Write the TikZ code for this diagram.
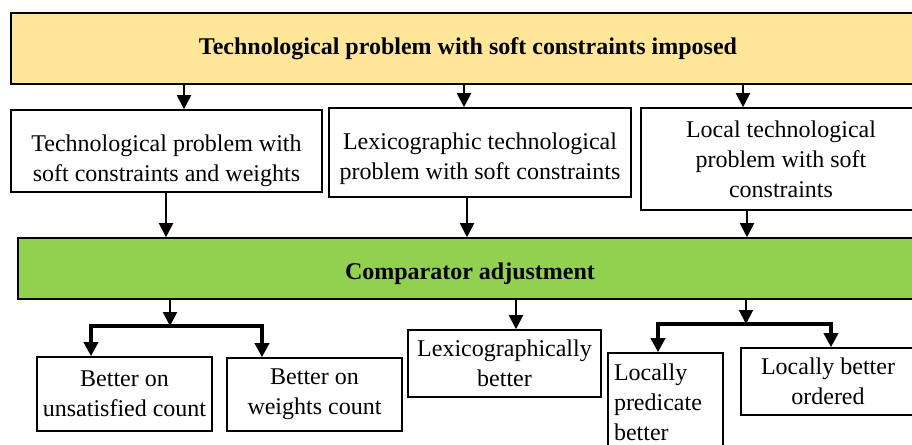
\documentclass[tikz,border=0pt]{standalone}
\usepackage{fontspec}
\setmainfont{Liberation Serif}
\usetikzlibrary{arrows.meta}
\definecolor{titleyellow}{HTML}{FFE699}
\definecolor{compgreen}{HTML}{92D050}

\begin{document}
\begin{tikzpicture}[x=0.5pt,y=-0.5pt]
%%%%%%%%%%%%%%%%%%%%%%%%%%%%%%%%%%%%%%%%%%%%%%%%%%%%%%%%%%%%%%
%styles
\tikzstyle{box}=[rectangle,draw=black,line width=0.8pt,inner sep=0pt,align=center,font=\fontsize{12}{15}\selectfont]
\tikzstyle{bigbox}=[box,font=\fontsize{12}{15}\selectfont\bfseries]
\tikzstyle{arr}=[-{Triangle[length=7pt,width=7pt]},line width=1pt]
\tikzstyle{fork}=[{Triangle[length=7pt,width=7pt]}-{Triangle[length=7pt,width=7pt]},line width=1.8pt]
\useasboundingbox (0,0) rectangle (912,445);
%nodes
\node[bigbox,fill=titleyellow,minimum width=457pt,minimum height=35.5pt] (top) at (468,48.5) {Technological problem with soft constraints imposed};
\node[box,minimum width=155.5pt,minimum height=41pt] (weighted) at (166.5,151) {\rule{0pt}{18pt}Technological problem with\\soft constraints and weights};
\node[box,minimum width=151pt,minimum height=44.5pt] (lexprob) at (480,152.5) {\rule{0pt}{15pt}Lexicographic technological\\problem with soft constraints};
\node[box,minimum width=140pt,minimum height=51pt] (localprob) at (781,159) {Local technological\\problem with soft\\constraints};
\node[bigbox,fill=compgreen,minimum width=452pt,minimum height=30.5pt] (comp) at (470,268.5) {\rule{0pt}{14pt}Comparator adjustment};
%%results
\node[box,minimum width=87.5pt,minimum height=37pt] (unsat) at (124.5,394) {Better on\\unsatisfied count};
\node[box,minimum width=87.5pt,minimum height=36.5pt] (wcount) at (314.5,394.5) {Better on\\weights count};
\node[box,minimum width=96.5pt,minimum height=33.5pt] (lexbetter) at (504.5,363.5) {Lexicographically\\better};
\node[box,minimum width=57.5pt,minimum height=49.5pt,text width=51.5pt,align=left] (predbetter) at (665.5,402.5) {Locally\\predicate\\better};
\node[box,minimum width=87pt,minimum height=33.5pt] (ordbetter) at (828,381.5) {Locally better\\ordered};
%columns
\coordinate (c1) at (184,0);
\coordinate (c2) at (464,0);
\coordinate (c3) at (743,0);
\coordinate (d1) at (166,0);
\coordinate (d2) at (467,0);
\coordinate (d3) at (747,0);
\coordinate (lexcol) at (516,0);
\coordinate (forkL) at (170,326);
\coordinate (forkLa) at (91,326);
\coordinate (forkLb) at (262,326);
\coordinate (forkR) at (746,324);
\coordinate (forkRa) at (658,324);
\coordinate (forkRb) at (831,324);
%%%%%%%%%%%%%%%%%%%%%%%%%%%%%%%%%%%%%%%%%%%%%%%%%%%%%%%%%%%%%%
%ARROWS
\draw[arr] (top.south -| c1) -- (weighted.north -| c1);
\draw[arr] (top.south -| c2) -- (lexprob.north -| c2);
\draw[arr] (top.south -| c3) -- (localprob.north -| c3);
\draw[arr] (weighted.south -| d1) -- (comp.north -| d1);
\draw[arr] (lexprob.south -| d2) -- (comp.north -| d2);
\draw[arr] (localprob.south -| d3) -- (comp.north -| d3);
\draw[arr] (comp.south -| forkL) -- (forkL);
\draw[fork] (forkLa |- unsat.north) -- (forkLa) -- (forkLb) -- (forkLb |- wcount.north);
\draw[arr] (comp.south -| lexcol) -- (lexbetter.north -| lexcol);
\draw[arr] (comp.south -| forkR) -- (forkR);
\draw[fork] (forkRa |- predbetter.north) -- (forkRa) -- (forkRb) -- (forkRb |- ordbetter.north);
\end{tikzpicture}
\end{document}
